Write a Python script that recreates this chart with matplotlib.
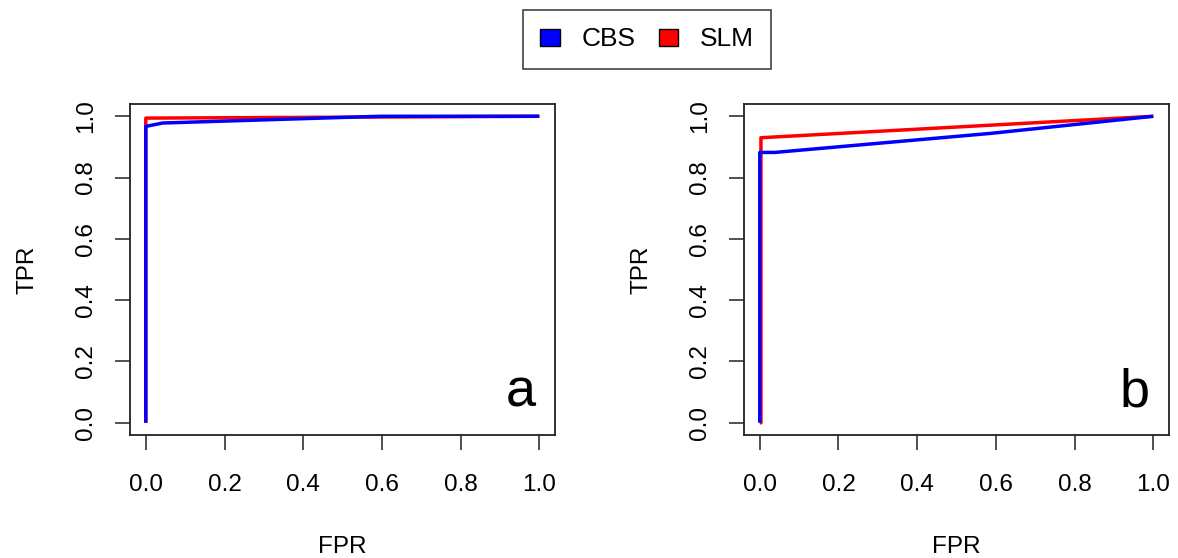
import matplotlib
matplotlib.use("Agg")
import matplotlib.pyplot as plt
from matplotlib.patches import Patch

plt.rcParams['font.family'] = ['Liberation Sans', 'DejaVu Sans']

# ROC curves (FPR, TPR) for the two simulation settings
a_cbs_fpr = [0.0, 0.0, 0.043, 0.595, 1.0]
a_cbs_tpr = [0.0, 0.967, 0.978, 1.0, 1.0]
a_slm_fpr = [0.0, 0.0, 1.0]
a_slm_tpr = [0.0, 0.994, 1.0]

b_cbs_fpr = [0.0, 0.0, 0.038, 0.585, 1.0]
b_cbs_tpr = [0.0, 0.882, 0.882, 0.944, 1.0]
b_slm_fpr = [0.0, 0.003, 0.003, 1.0]
b_slm_tpr = [0.0, 0.0, 0.93, 1.0]

ticks = [0.0, 0.2, 0.4, 0.6, 0.8, 1.0]
tick_labels = ["0.0", "0.2", "0.4", "0.6", "0.8", "1.0"]

FS = 17.5

fig = plt.figure(figsize=(11.78, 5.58), dpi=100)
ax_a = fig.add_axes([0.1104, 0.2204, 0.3608, 0.5932])
ax_b = fig.add_axes([0.6316, 0.2204, 0.3608, 0.5932])

panels = [
    (ax_a, a_cbs_fpr, a_cbs_tpr, a_slm_fpr, a_slm_tpr, "a"),
    (ax_b, b_cbs_fpr, b_cbs_tpr, b_slm_fpr, b_slm_tpr, "b"),
]

for ax, cf, ct, sf, st, tag in panels:
    ax.plot(sf, st, color="#ff0000", lw=2.5, solid_capstyle="butt")
    ax.plot(cf, ct, color="#0000ff", lw=2.5, solid_capstyle="butt")
    ax.set_xlim(-0.04, 1.04)
    ax.set_ylim(-0.04, 1.04)
    ax.set_xticks(ticks)
    ax.set_xticklabels(tick_labels)
    ax.set_yticks(ticks)
    ax.set_yticklabels(tick_labels, rotation=90, va="center")
    ax.tick_params(direction="out", length=10.8, width=1.1, labelsize=FS,
                   color="#222222")
    ax.tick_params(axis="x", pad=17)
    ax.tick_params(axis="y", pad=13)
    for s in ax.spines.values():
        s.set_color("#222222")
        s.set_linewidth(1.3)
    ax.set_xlabel("FPR", fontsize=FS, labelpad=29)
    ax.set_ylabel("TPR", fontsize=FS, labelpad=26)
    ax.text(0.954, 0.085, tag, transform=ax.transAxes, fontsize=39,
            ha="right", va="baseline")

handles = [Patch(facecolor="#0000ff", edgecolor="black", lw=1),
           Patch(facecolor="#ff0000", edgecolor="black", lw=1)]
leg = fig.legend(handles, ["CBS", "SLM"], loc="center",
                 bbox_to_anchor=(647 / 1178, 1 - 39.5 / 558), ncol=2,
                 frameon=True, fancybox=False, edgecolor="black",
                 fontsize=19, handlelength=0.74, handleheight=0.6,
                 handletextpad=0.8, columnspacing=0.9, borderpad=0.65,
                 borderaxespad=0)
leg.get_frame().set_linewidth(1.1)

fig.savefig("out.png", dpi=100)
